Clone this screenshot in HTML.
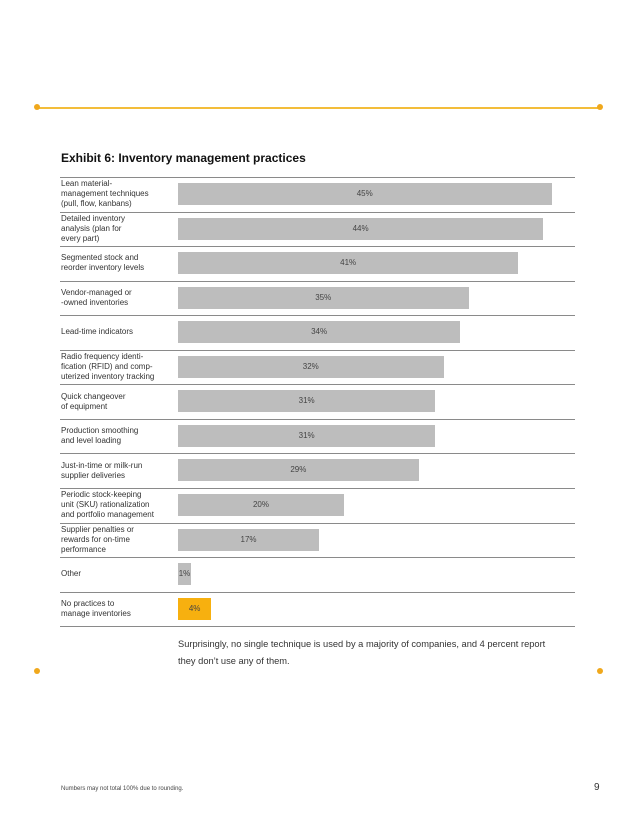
<!DOCTYPE html>
<html><head><meta charset="utf-8"><style>
body{margin:0;width:638px;height:826px;background:#fff;position:relative;font-family:"Liberation Sans",Arial,sans-serif;color:#222;overflow:hidden}
.abs{position:absolute}
.lbl{position:absolute;left:61px;width:115px;font-size:8px;line-height:10px;color:#333}
.sep{position:absolute;left:60px;width:515px;height:1px;background:#8a8a8a}
.bar{position:absolute;left:178px;height:22px;background:#bdbdbd;font-size:8px;color:#444;text-align:center;line-height:22px}
</style></head><body>
<div class="abs" style="left:37px;top:107px;width:563px;height:1.5px;background:#f3bd3a"></div>
<div class="abs" style="left:34px;top:104px;width:6px;height:6px;border-radius:50%;background:#f0a81c"></div>
<div class="abs" style="left:597px;top:104px;width:6px;height:6px;border-radius:50%;background:#f0a81c"></div>
<div class="abs" style="left:61px;top:151px;font-size:12px;font-weight:bold;color:#111">Exhibit 6: Inventory management practices</div>
<div id="chart"></div>
<div class="abs" style="left:178px;top:636px;font-size:9.3px;line-height:17px;color:#333;width:384px">Surprisingly, no single technique is used by a majority of companies, and 4 percent report they don’t use any of them.</div>
<div class="abs" style="left:34px;top:668px;width:6px;height:6px;border-radius:50%;background:#f0a81c"></div>
<div class="abs" style="left:597px;top:668px;width:6px;height:6px;border-radius:50%;background:#f0a81c"></div>
<div class="abs" style="left:61px;top:786px;font-size:6px;color:#444">Numbers may not total 100% due to rounding.</div>
<div class="abs" style="left:594px;top:782px;font-size:10px;color:#333">9</div>
<script>
const categories=["Lean material-<br>management techniques<br>(pull, flow, kanbans)","Detailed inventory<br>analysis (plan for<br>every part)","Segmented stock and<br>reorder inventory levels","Vendor-managed or<br>-owned inventories","Lead-time indicators","Radio frequency identi-<br>fication (RFID) and comp-<br>uterized inventory tracking","Quick changeover<br>of equipment","Production smoothing<br>and level loading","Just-in-time or milk-run<br>supplier deliveries","Periodic stock-keeping<br>unit (SKU) rationalization<br>and portfolio management","Supplier penalties or<br>rewards for on-time<br>performance","Other","No practices to<br>manage inventories"];
const values=[45,44,41,35,34,32,31,31,29,20,17,1,4];
const highlight=[false,false,false,false,false,false,false,false,false,false,false,false,true];
const chart=document.getElementById('chart');
const top0=177,rowH=34.55,scale=8.3;
function x(v){return Math.max(v*scale,13);}
function sep(y){const s=document.createElement('div');s.className='sep';s.style.top=y+'px';


chart.appendChild(s);}
sep(top0);
categories.forEach((c,i)=>{
 const rt=top0+i*rowH;
 const l=document.createElement('div');l.className='lbl';l.innerHTML=c;
 const lines=c.split('<br>').length;
 l.style.top=(rt+rowH/2-lines*5)+'px';
 
 
 chart.appendChild(l);
 const b=document.createElement('div');b.className='bar';
 b.style.top=(rt+6)+'px';b.style.width=x(values[i])+'px';
 if(highlight[i]){b.style.background='#f7b00f';b.style.width=Math.max(values[i]*scale,33)+'px';}
 b.textContent=values[i]+'%';
 
 
 chart.appendChild(b);
 sep(Math.round(rt+rowH));
});
</script>
</body></html>
